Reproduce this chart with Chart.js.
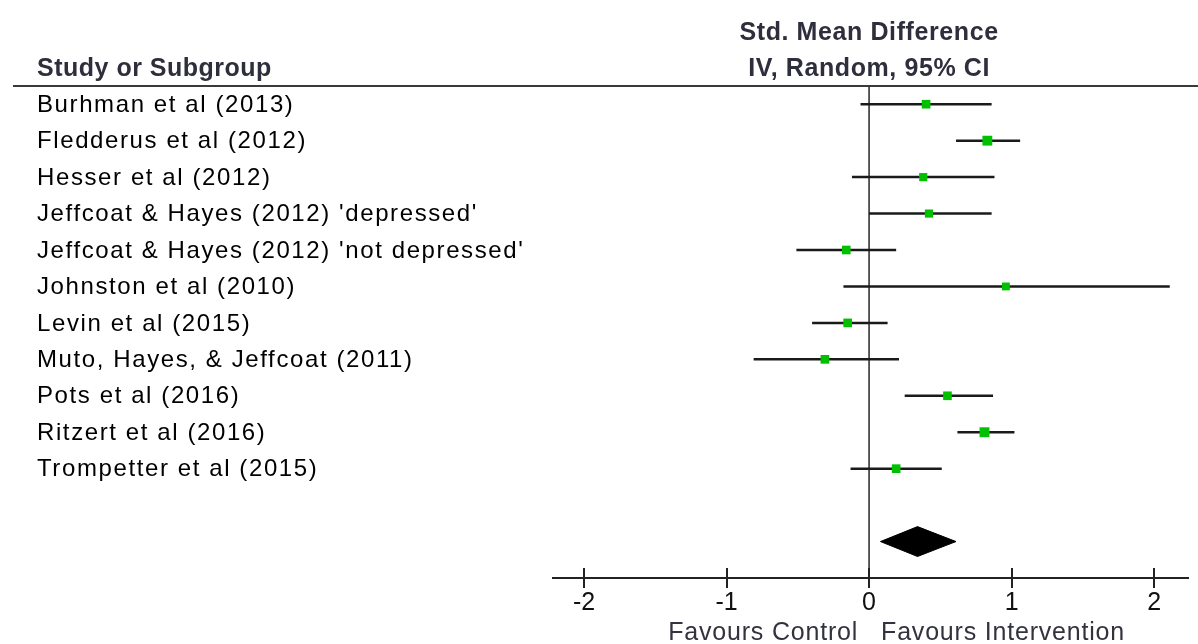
<!DOCTYPE html>
<html>
<head>
<meta charset="utf-8">
<script src="https://cdn.jsdelivr.net/npm/chart.js@4.4.1/dist/chart.umd.min.js"></script>
<style>
  body { margin: 0; background: #fff; }
  #wrap { position: relative; width: 1198px; height: 644px; }
</style>
</head>
<body>
<div id="wrap"><canvas id="forest"></canvas></div>
<script>
// forest plot data
const studies = [
    'Burhman et al (2013)',
    'Fledderus et al (2012)',
    'Hesser et al (2012)',
    "Jeffcoat & Hayes (2012) 'depressed'",
    "Jeffcoat & Hayes (2012) 'not depressed'",
    'Johnston et al (2010)',
    'Levin et al (2015)',
    'Muto, Hayes, & Jeffcoat (2011)',
    'Pots et al (2016)',
    'Ritzert et al (2016)',
    'Trompetter et al (2015)'
];
const estimates = [0.40, 0.83, 0.38, 0.42, -0.16, 0.96, -0.15, -0.31, 0.55, 0.81, 0.19];
const ciLower = [-0.06, 0.61, -0.12, 0.00, -0.51, -0.18, -0.40, -0.81, 0.25, 0.62, -0.13];
const ciUpper = [0.86, 1.06, 0.88, 0.86, 0.19, 2.11, 0.13, 0.21, 0.87, 1.02, 0.51];
const weights = [8.5, 11, 7.5, 7.5, 8.5, 7, 8.5, 8.5, 8.5, 11, 8.5];
const pooledEstimate = 0.34;
const pooledLower = 0.08;
const pooledUpper = 0.61;
const xTicks = [-2, -1, 0, 1, 2];

const pooledRow = studies.length + 2;
const sans = "'Liberation Sans', Arial, sans-serif";

// one line dataset per confidence interval
const ciSets = studies.map((s, i) => ({
    type: 'line',
    data: [{ x: ciLower[i], y: i + 1 }, { x: ciUpper[i], y: i + 1 }],
    borderColor: '#1a1a1a',
    borderWidth: 2.5,
    pointRadius: 0,
    order: 2
}));

const pointSet = {
    type: 'scatter',
    data: studies.map((s, i) => ({ x: estimates[i], y: i + 1 })),
    pointStyle: 'rect',
    pointRadius: weights.map(w => 2.1 * Math.sqrt(w)),
    backgroundColor: '#00c000',
    borderColor: '#00c000',
    borderWidth: 0,
    order: 1
};

const diamondSet = {
    type: 'line',
    data: [
        { x: pooledLower, y: pooledRow },
        { x: pooledEstimate, y: pooledRow - 0.41 },
        { x: pooledUpper, y: pooledRow },
        { x: pooledEstimate, y: pooledRow + 0.41 },
        { x: pooledLower, y: pooledRow }
    ],
    borderColor: '#000',
    backgroundColor: '#000',
    borderWidth: 1,
    pointRadius: 0,
    fill: 'shape',
    tension: 0,
    order: 1
};

function label(ctx, text, x, y, font, spacing) {
    ctx.font = font;
    ctx.letterSpacing = spacing + 'px';
    ctx.fillText(text, x, y);
}

const forestDecor = {
    id: 'forestDecor',
    beforeDatasetsDraw(chart) {
        const ctx = chart.ctx;
        const x = chart.scales.x;
        const area = chart.chartArea;
        const zx = x.getPixelForValue(0);
        ctx.save();
        // header rule
        ctx.strokeStyle = '#3a3a3a';
        ctx.lineWidth = 2;
        ctx.beginPath();
        ctx.moveTo(13, area.top);
        ctx.lineTo(1198, area.top);
        ctx.stroke();
        // line of no effect
        ctx.strokeStyle = '#333';
        ctx.lineWidth = 1.6;
        ctx.beginPath();
        ctx.moveTo(zx, area.top);
        ctx.lineTo(zx, area.bottom);
        ctx.stroke();
        // bottom axis
        ctx.strokeStyle = '#222';
        ctx.lineWidth = 2;
        ctx.beginPath();
        ctx.moveTo(area.left, area.bottom);
        ctx.lineTo(area.right, area.bottom);
        ctx.stroke();
        xTicks.forEach(t => {
            const px = Math.round(x.getPixelForValue(t));
            ctx.beginPath();
            ctx.moveTo(px, area.bottom - 10);
            ctx.lineTo(px, area.bottom + 10);
            ctx.stroke();
        });
        ctx.restore();
    },
    afterDraw(chart) {
        const ctx = chart.ctx;
        const x = chart.scales.x, y = chart.scales.y;
        const area = chart.chartArea;
        const zx = x.getPixelForValue(0);
        ctx.save();
        ctx.textBaseline = 'middle';
        ctx.textAlign = 'left';
        // study labels
        ctx.fillStyle = '#000';
        studies.forEach((s, i) => label(ctx, s, 37, y.getPixelForValue(i + 1) + 1, '24px ' + sans, 1.6));
        // headers
        ctx.fillStyle = '#2e2e3c';
        label(ctx, 'Study or Subgroup', 37, 69, 'bold 25px ' + sans, 0.5);
        ctx.textAlign = 'center';
        label(ctx, 'Std. Mean Difference', zx, 33, 'bold 25px ' + sans, 0.6);
        label(ctx, 'IV, Random, 95% CI', zx, 69, 'bold 25px ' + sans, 0.6);
        // tick labels
        ctx.fillStyle = '#111';
        xTicks.forEach(t => label(ctx, String(t), x.getPixelForValue(t), area.bottom + 25, '25px ' + sans, 0));
        // direction labels
        ctx.fillStyle = '#33333f';
        ctx.textAlign = 'right';
        label(ctx, 'Favours Control', zx - 11, area.bottom + 55, '25px ' + sans, 0.8);
        ctx.textAlign = 'left';
        label(ctx, 'Favours Intervention', zx + 12, area.bottom + 55, '25px ' + sans, 0.8);
        ctx.restore();
    }
};

new Chart(document.getElementById('forest'), {
    data: { datasets: [...ciSets, pointSet, diamondSet] },
    options: {
        responsive: true,
        maintainAspectRatio: false,
        animation: false,
        layout: { padding: { left: 552, right: 9, top: 86, bottom: 66 } },
        scales: {
            x: { type: 'linear', min: -2.225, max: 2.245, display: false },
            y: { type: 'linear', min: 0.5, max: 14, reverse: true, display: false }
        },
        plugins: { legend: { display: false }, tooltip: { enabled: false } }
    },
    plugins: [forestDecor]
});
</script>
</body>
</html>
